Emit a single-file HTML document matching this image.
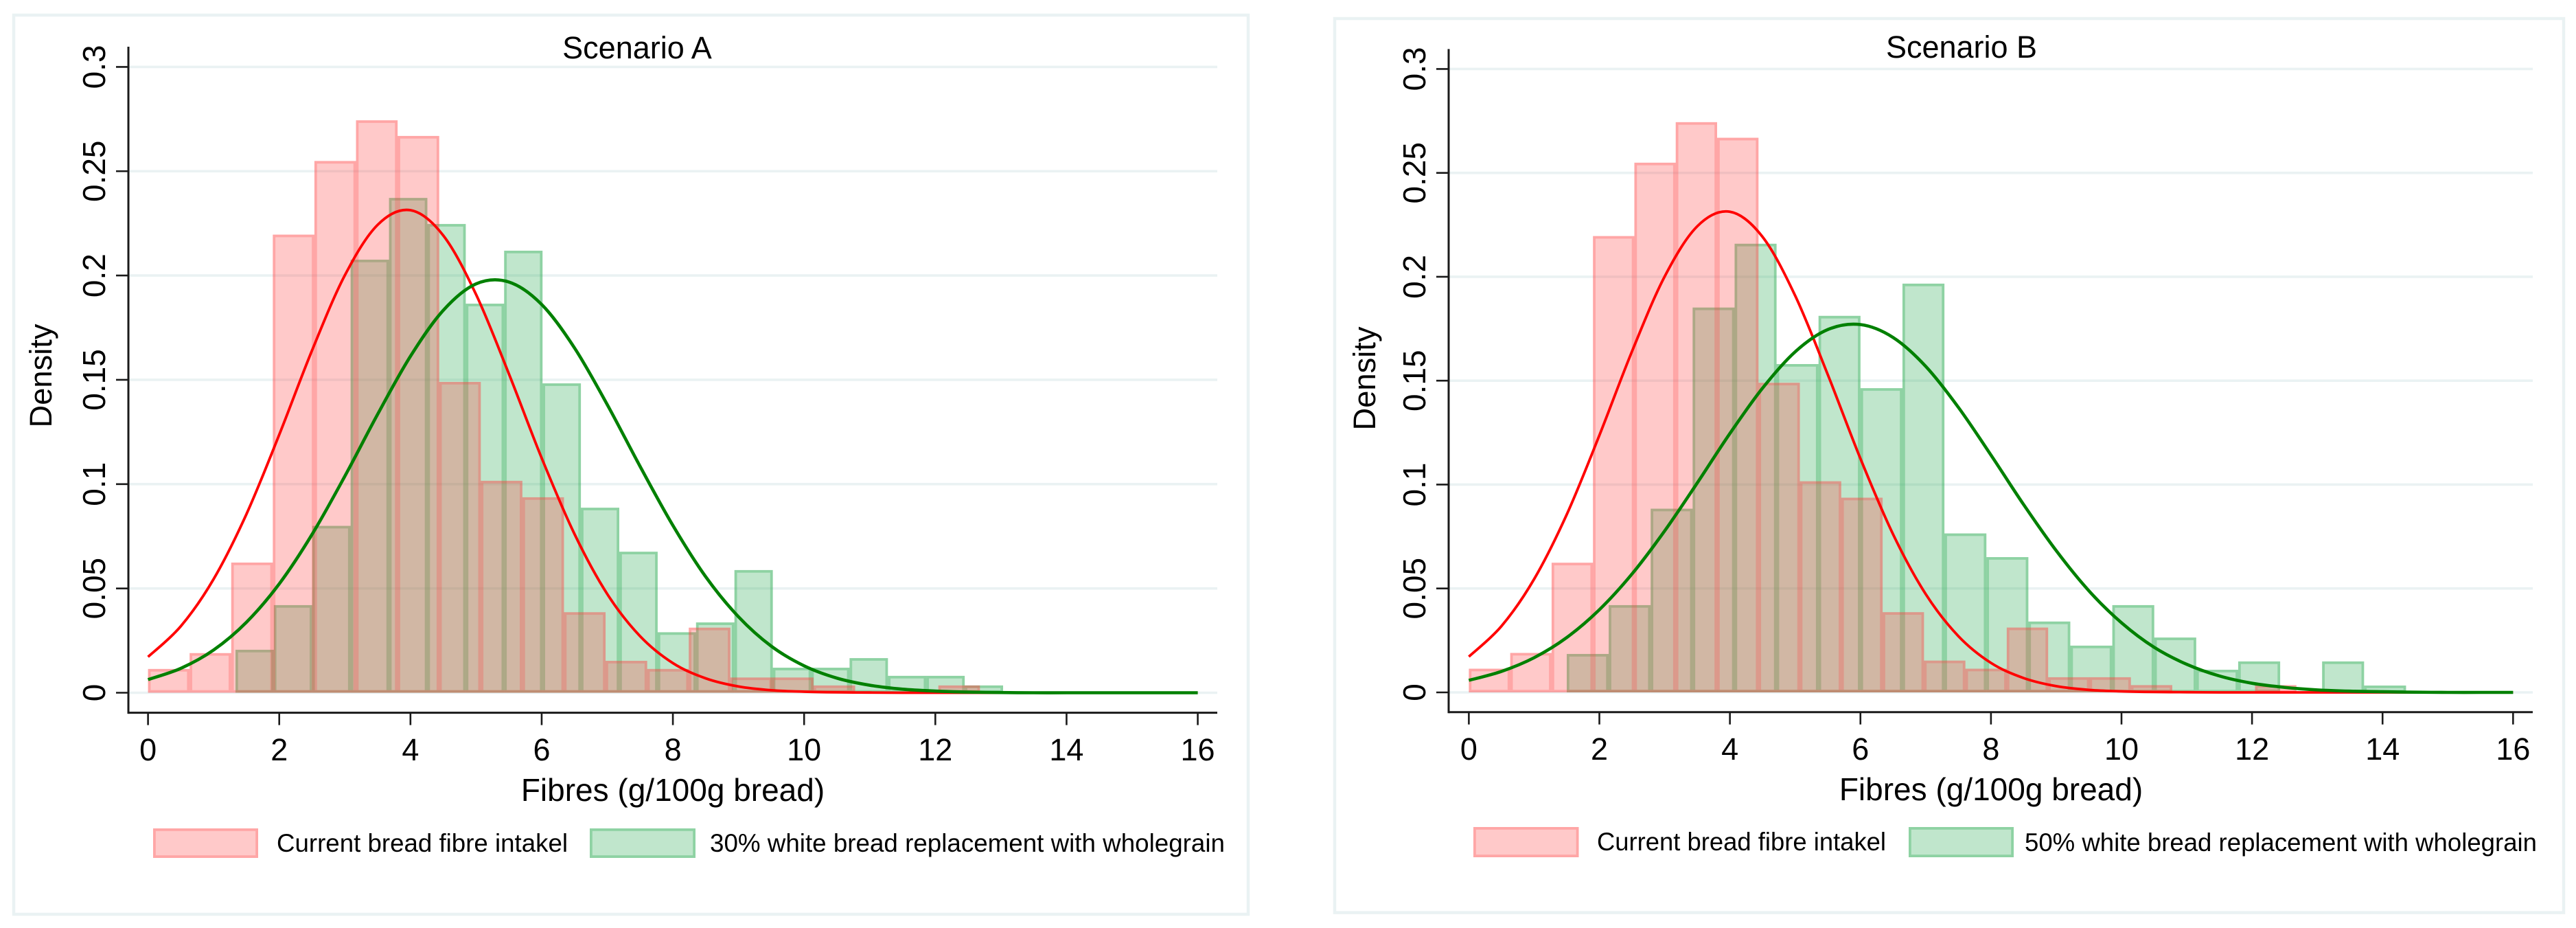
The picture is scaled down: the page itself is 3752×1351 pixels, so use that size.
<!DOCTYPE html>
<html lang="en">
<head>
<meta charset="utf-8">
<title>Fibre intake histograms: Scenario A and Scenario B</title>
<style>
html,body{margin:0;padding:0;background:#fff;}
svg{display:block;}
text{font-family:"Liberation Sans",Arial,sans-serif;fill:#000;}
</style>
</head>
<body>
<svg id="chart" xmlns="http://www.w3.org/2000/svg" width="3752" height="1351" viewBox="0 0 3752 1351">
  <rect x="0" y="0" width="3752" height="1351" fill="#ffffff"/>

  <g id="panel-a">
    <rect x="20" y="22" width="1798" height="1309" fill="#ffffff" stroke="#eaf2f3" stroke-width="4.5"/>
    <g id="a-grid"></g>
    <g id="a-marks"></g>
    <g id="a-axes"></g>
    <text x="928" y="85" font-size="45" text-anchor="middle">Scenario A</text>
    <text x="980" y="1166" font-size="46" text-anchor="middle">Fibres (g/100g bread)</text>
    <text transform="translate(75,547) rotate(-90)" font-size="45.3" text-anchor="middle">Density</text>
    <rect x="223" y="1206" width="153" height="43" fill="rgba(255,62,62,0.28)"/>
    <rect x="224.9" y="1207.9" width="149.2" height="39.2" fill="none" stroke="rgba(255,62,62,0.25)" stroke-width="3.8"/>
    <text x="403" y="1240" font-size="36.7" textLength="424" lengthAdjust="spacingAndGlyphs">Current bread fibre intakel</text>
    <rect x="859" y="1206" width="154" height="43" fill="rgba(48,172,85,0.3)"/>
    <rect x="860.9" y="1207.9" width="150.2" height="39.2" fill="none" stroke="rgba(48,172,85,0.34)" stroke-width="3.8"/>
    <text x="1034" y="1240" font-size="36.7" textLength="750" lengthAdjust="spacingAndGlyphs">30% white bread replacement with wholegrain</text>
  </g>

  <g id="panel-b">
    <rect x="1944" y="27" width="1790" height="1301.6" fill="#ffffff" stroke="#eaf2f3" stroke-width="4.5"/>
    <g id="b-grid"></g>
    <g id="b-marks"></g>
    <g id="b-axes"></g>
    <text x="2857" y="84" font-size="45" text-anchor="middle">Scenario B</text>
    <text x="2900" y="1165" font-size="46" text-anchor="middle">Fibres (g/100g bread)</text>
    <text transform="translate(2003,551) rotate(-90)" font-size="45.3" text-anchor="middle">Density</text>
    <rect x="2146" y="1204" width="153.5" height="44" fill="rgba(255,62,62,0.28)"/>
    <rect x="2147.9" y="1205.9" width="149.7" height="40.2" fill="none" stroke="rgba(255,62,62,0.25)" stroke-width="3.8"/>
    <text x="2326" y="1238" font-size="36.7" textLength="421" lengthAdjust="spacingAndGlyphs">Current bread fibre intakel</text>
    <rect x="2780" y="1204" width="153" height="44" fill="rgba(48,172,85,0.3)"/>
    <rect x="2781.9" y="1205.9" width="149.2" height="40.2" fill="none" stroke="rgba(48,172,85,0.34)" stroke-width="3.8"/>
    <text x="2949" y="1239" font-size="36.7" textLength="746" lengthAdjust="spacingAndGlyphs">50% white bread replacement with wholegrain</text>
  </g>
</svg>

<script>
// Axis tick labels
const xTickValues = [0, 2, 4, 6, 8, 10, 12, 14, 16];
const yTickValues = [0, 0.05, 0.1, 0.15, 0.2, 0.25, 0.3];

// Histogram bin layout (in g/100g bread)
const currentBinStart = 0;
const currentBinWidth = 0.634;
const scenarioABinStart = 1.333;
const scenarioABinWidth = 0.585;
const scenarioBBinStart = 1.5;
const scenarioBBinWidth = 0.643;

// Histogram densities
const currentDensity = [0.0114, 0.019, 0.0624, 0.2196, 0.2549, 0.2744, 0.2669, 0.149, 0.1016, 0.0937, 0.0386, 0.0153, 0.0114, 0.0312, 0.0073, 0.0073, 0.0035, 0, 0, 0.0035];
const scenarioADensity = [0.0206, 0.042, 0.08, 0.2076, 0.2372, 0.2247, 0.1865, 0.2119, 0.1483, 0.0887, 0.0676, 0.029, 0.0337, 0.0588, 0.012, 0.012, 0.0166, 0.0081, 0.0081, 0.0035];
const scenarioBDensity = [0.0185, 0.042, 0.0884, 0.1852, 0.2159, 0.158, 0.1812, 0.1464, 0.1967, 0.0765, 0.0651, 0.0341, 0.0225, 0.042, 0.0264, 0.0109, 0.0149, 0, 0.0149, 0.0033];

// Fitted curves, read at each half unit from x = 0 to x = 16
const curveX = [0, 0.5, 1, 1.5, 2, 2.5, 3, 3.5, 4, 4.5, 5, 5.5, 6, 6.5, 7, 7.5, 8, 8.5, 9, 9.5, 10, 10.5, 11, 11.5, 12, 12.5, 13, 13.5, 14, 14.5, 15, 15.5, 16];
const currentCurve = [0.0172, 0.0319, 0.0545, 0.0856, 0.1237, 0.1641, 0.2001, 0.2243, 0.2313, 0.2192, 0.1909, 0.1529, 0.1125, 0.0761, 0.0473, 0.0271, 0.0142, 0.0069, 0.003, 0.0012, 0.0005, 0.0002, 0.0001, 0, 0, 0, 0, 0, 0, 0, 0, 0, 0];
const scenarioACurve = [0.0063, 0.0117, 0.0205, 0.0338, 0.0522, 0.0759, 0.1038, 0.1335, 0.1613, 0.1833, 0.196, 0.1969, 0.1861, 0.1653, 0.1381, 0.1085, 0.0802, 0.0556, 0.0364, 0.0223, 0.0129, 0.007, 0.0036, 0.0017, 0.0008, 0.0003, 0.0001, 0, 0, 0, 0, 0, 0];
const scenarioBCurve = [0.0058, 0.0101, 0.0167, 0.0264, 0.0398, 0.057, 0.0777, 0.1008, 0.1246, 0.1464, 0.1639, 0.1746, 0.177, 0.1708, 0.1569, 0.1372, 0.1142, 0.0904, 0.0682, 0.0489, 0.0335, 0.0217, 0.0135, 0.0079, 0.0044, 0.0024, 0.0012, 0.0006, 0.0003, 0.0001, 0, 0, 0];

const SVG_NS = 'http://www.w3.org/2000/svg';
const BAR_STROKE = 3.8;

function make(tag, attrs, parent) {
  const node = document.createElementNS(SVG_NS, tag);
  Object.keys(attrs).forEach(function (k) { node.setAttribute(k, attrs[k]); });
  parent.appendChild(node);
  return node;
}

function curvePath(xs, ys, xScale, yScale) {
  const px = xs.map(xScale);
  const py = ys.map(yScale);
  let d = 'M' + px[0].toFixed(2) + ' ' + py[0].toFixed(2);
  for (let i = 0; i < px.length - 1; i++) {
    const p0 = Math.max(i - 1, 0);
    const p3 = Math.min(i + 2, px.length - 1);
    const c1x = px[i] + (px[i + 1] - px[p0]) / 6;
    const c1y = py[i] + (py[i + 1] - py[p0]) / 6;
    const c2x = px[i + 1] - (px[p3] - px[i]) / 6;
    const c2y = py[i + 1] - (py[p3] - py[i]) / 6;
    d += 'C' + c1x.toFixed(2) + ' ' + c1y.toFixed(2) + ' ' + c2x.toFixed(2) + ' ' + c2y.toFixed(2) + ' ' + px[i + 1].toFixed(2) + ' ' + py[i + 1].toFixed(2);
  }
  return d;
}

function drawBars(parent, values, binStart, binWidth, xScale, yScale, fill, stroke, barName, outlineName) {
  values.forEach(function (v, i) {
    if (v <= 0) return;
    const x0 = xScale(binStart + i * binWidth);
    const x1 = xScale(binStart + (i + 1) * binWidth);
    const yTop = yScale(v);
    const yBase = yScale(0);
    const bar = make('rect', {
      x: x0.toFixed(2),
      y: yTop.toFixed(2),
      width: (x1 - x0).toFixed(2),
      height: (yBase - yTop).toFixed(2),
      fill: fill
    }, parent);
    
    
    const outline = make('rect', {
      x: (x0 + BAR_STROKE / 2).toFixed(2),
      y: (yTop + BAR_STROKE / 2).toFixed(2),
      width: Math.max(x1 - x0 - BAR_STROKE, 0.5).toFixed(2),
      height: Math.max(yBase - yTop - BAR_STROKE, 0.5).toFixed(2),
      fill: 'none',
      stroke: stroke,
      'stroke-width': BAR_STROKE
    }, parent);
    
    
  });
}

function drawPanel(cfg) {
  const xScale = function (v) { return cfg.x0 + v * cfg.xPerUnit; };
  const yScale = function (v) { return cfg.y0 - v * cfg.yPerUnit; };
  const grid = document.getElementById(cfg.prefix + '-grid');
  const marks = document.getElementById(cfg.prefix + '-marks');
  const axes = document.getElementById(cfg.prefix + '-axes');

  yTickValues.forEach(function (v) {
    const line = make('line', { x1: cfg.axisX, x2: cfg.axisRight, y1: yScale(v), y2: yScale(v), stroke: '#eaf2f3', 'stroke-width': 3.6 }, grid);
    
    
  });

  drawBars(marks, cfg.greenBars, cfg.greenStart, cfg.greenWidth, xScale, yScale, 'rgba(48,172,85,0.3)', 'rgba(48,172,85,0.34)', 'replacement-histogram-bar', 'replacement-histogram-bar-outline');
  drawBars(marks, currentDensity, currentBinStart, currentBinWidth, xScale, yScale, 'rgba(255,62,62,0.28)', 'rgba(255,62,62,0.25)', 'current-histogram-bar', 'current-histogram-bar-outline');

  const redLine = make('path', { d: curvePath(curveX, currentCurve, xScale, yScale), fill: 'none', stroke: '#ff0000', 'stroke-width': 3.8 }, marks);
  
  
  const greenLine = make('path', { d: curvePath(curveX, cfg.greenCurve, xScale, yScale), fill: 'none', stroke: '#008000', 'stroke-width': 4.6 }, marks);
  
  

  const yAxis = make('line', { x1: cfg.axisX, x2: cfg.axisX, y1: cfg.axisTop, y2: cfg.axisBottom + 1.5, stroke: '#1a1a1a', 'stroke-width': 3 }, axes);
  
  
  const xAxis = make('line', { x1: cfg.axisX, x2: cfg.axisRight, y1: cfg.axisBottom, y2: cfg.axisBottom, stroke: '#1a1a1a', 'stroke-width': 3 }, axes);
  
  

  xTickValues.forEach(function (v) {
    const tick = make('line', { x1: xScale(v), x2: xScale(v), y1: cfg.axisBottom, y2: cfg.axisBottom + 18, stroke: '#1a1a1a', 'stroke-width': 2.6 }, axes);
    
    
    const label = make('text', { x: xScale(v), y: cfg.xLabelY, 'font-size': 45, 'text-anchor': 'middle' }, axes);
    
    
    label.textContent = String(v);
  });

  yTickValues.forEach(function (v) {
    const tick = make('line', { x1: cfg.axisX - 18, x2: cfg.axisX, y1: yScale(v), y2: yScale(v), stroke: '#1a1a1a', 'stroke-width': 2.6 }, axes);
    
    
    const label = make('text', { transform: 'translate(' + cfg.yLabelX + ',' + yScale(v) + ') rotate(-90)', 'font-size': 46, 'text-anchor': 'middle' }, axes);
    
    
    label.textContent = String(v);
  });
}

drawPanel({
  prefix: 'a', x0: 215.6, xPerUnit: 95.56, y0: 1008.5, yPerUnit: 3037,
  axisX: 187, axisRight: 1773, axisTop: 68, axisBottom: 1037.6, xLabelY: 1107, yLabelX: 153,
  greenBars: scenarioADensity, greenStart: scenarioABinStart, greenWidth: scenarioABinWidth, greenCurve: scenarioACurve
});
drawPanel({
  prefix: 'b', x0: 2139.4, xPerUnit: 95.06, y0: 1008, yPerUnit: 3025.3,
  axisX: 2110, axisRight: 3689, axisTop: 71.4, axisBottom: 1036.7, xLabelY: 1106, yLabelX: 2076,
  greenBars: scenarioBDensity, greenStart: scenarioBBinStart, greenWidth: scenarioBBinWidth, greenCurve: scenarioBCurve
});
</script>
</body>
</html>
